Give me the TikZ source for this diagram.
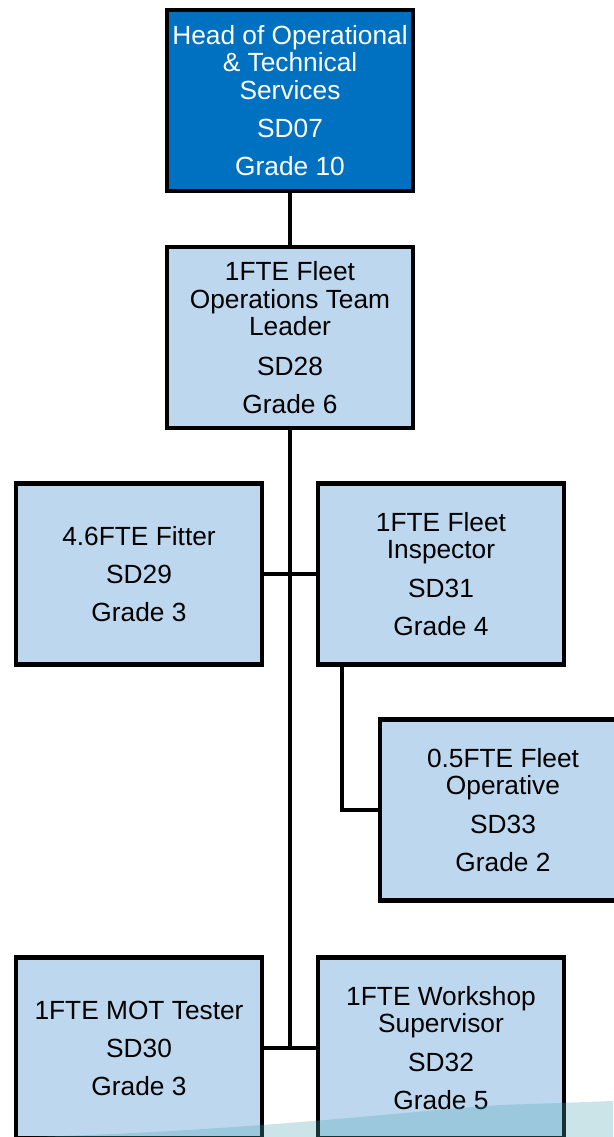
\documentclass[tikz,border=0pt]{standalone}
\usepackage{fontspec}
\setmainfont{Liberation Sans}
\definecolor{headblue}{HTML}{0070C0}
\definecolor{lightbox}{HTML}{BDD7EE}
\definecolor{swoosh}{HTML}{4FA6B3}
\begin{document}
\begin{tikzpicture}[x=1pt,y=-1pt,
  post/.style={draw=black, line width=4.4pt, fill=lightbox, minimum width=246.5pt, minimum height=181pt,
    align=center, inner sep=0pt, font=\fontsize{26.3}{27.5}\selectfont, text=black},
  headpost/.style={post, fill=headblue, text=white},
  link/.style={draw=black, line width=4.4pt}]
\useasboundingbox (0,0) rectangle (613,1137);
\node[headpost] (head) at (290,100.5) {Head of Operational\\\& Technical\\Services\\[10.5pt]SD07\\[10.5pt]Grade 10};
\node[post] (lead) at (290,337.5) {1FTE Fleet\\Operations Team\\Leader\\[12pt]SD28\\[10.5pt]Grade 6};
\node[post] (fitter) at (139,574) {4.6FTE Fitter\\[10.5pt]SD29\\[10.5pt]Grade 3};
\node[post] (insp) at (441,574) {1FTE Fleet\\Inspector\\[11pt]SD31\\[10.5pt]Grade 4};
\node[post] (oper) at (503,810) {0.5FTE Fleet\\Operative\\[11pt]SD33\\[10.5pt]Grade 2};
\node[post] (mot) at (139,1048) {1FTE MOT Tester\\[10.5pt]SD30\\[10.5pt]Grade 3};
\node[post] (shop) at (441,1048) {1FTE Workshop\\Supervisor\\[11pt]SD32\\[10.5pt]Grade 5};
\coordinate (trunkend) at (290,1048);
\coordinate (inspdrop) at (342,666);
\draw[link] (head.south) -- (lead.north);
\draw[link] (lead.south) -- (trunkend);
\draw[link] (fitter.east) -- (insp.west);
\draw[link] (mot.east) -- (shop.west);
\draw[link] (inspdrop) |- (oper.west);
\fill[swoosh, fill opacity=0.3] (30,1137) .. controls (250,1131) and (420,1110) .. (500,1105)
  .. controls (560,1103) .. (613,1101) -- (613,1137) -- cycle;
\end{tikzpicture}
\end{document}
